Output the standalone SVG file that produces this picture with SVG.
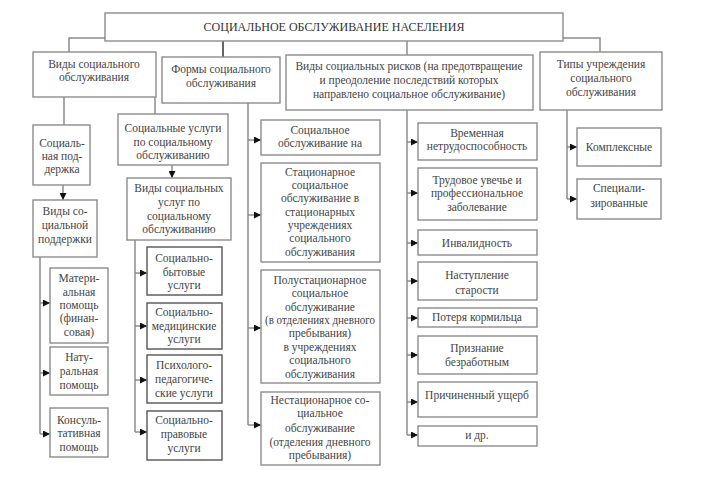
<svg xmlns="http://www.w3.org/2000/svg" width="705" height="492" viewBox="0 0 705 492">
<defs>
<marker id="ar" viewBox="0 0 10 10" refX="10" refY="5" markerWidth="8" markerHeight="7" markerUnits="userSpaceOnUse" orient="auto">
<path d="M0,0 L10,5 L0,10 z" fill="#111"/>
</marker>
</defs>
<style>
.b{fill:#fff;stroke:#8c8c8c;stroke-width:1.4}
.d{fill:#fff;stroke:#555;stroke-width:1.4}
.t{font-family:'Liberation Serif','Times New Roman',serif;font-size:11.5px;fill:#444;text-anchor:middle}
.h{font-family:'Liberation Serif','Times New Roman',serif;font-size:12px;fill:#333;text-anchor:middle}
.c{fill:none;stroke:#8c8c8c;stroke-width:1.5}
.k{fill:none;stroke:#333;stroke-width:1.5}
.a{fill:none;stroke:#8c8c8c;stroke-width:1.5;marker-end:url(#ar)}
</style>
<rect width="705" height="492" fill="#fff"/>

<g id="connectors">
<path class="c" d="M105,38 H69 V52"/>
<path class="c" d="M563,38 H600 V52"/>
<path class="k" d="M223,41 V57"/>
<path class="c" d="M407,41 V55"/>
<path class="c" d="M64,97 V125"/>
<path class="c" d="M155,97 V114"/>
<path class="a" d="M63,185 V200"/>
<path class="c" d="M40,257 V434"/>
<path class="a" d="M40,303 H50"/>
<path class="a" d="M40,373 H50"/>
<path class="a" d="M40,434 H50"/>
<path class="a" d="M172,165 V178"/>
<path class="c" d="M135,240 V432"/>
<path class="a" d="M135,273 H147"/>
<path class="a" d="M135,326 H147"/>
<path class="a" d="M135,380 H147"/>
<path class="a" d="M135,432 H147"/>
<path class="c" d="M248,103 V425"/>
<path class="a" d="M248,140 H261"/>
<path class="a" d="M248,215 H261"/>
<path class="a" d="M248,328 H261"/>
<path class="a" d="M248,425 H261"/>
<path class="c" d="M407,110 V435"/>
<path class="a" d="M407,142 H418"/>
<path class="a" d="M407,193 H418"/>
<path class="a" d="M407,243 H418"/>
<path class="a" d="M407,281 H418"/>
<path class="a" d="M407,318 H418"/>
<path class="a" d="M407,355 H418"/>
<path class="a" d="M407,402 H418"/>
<path class="a" d="M407,435 H418"/>
<path class="c" d="M567,110 V199"/>
<path class="a" d="M567,147 H577"/>
<path class="a" d="M567,199 H577"/>
</g>

<g id="title"><rect class="b" x="105" y="13" width="458" height="28"/><text class="h" x="334" y="31">СОЦИАЛЬНОЕ ОБСЛУЖИВАНИЕ НАСЕЛЕНИЯ</text></g>

<g id="vidy"><rect class="b" x="33" y="52" width="123" height="45"/><text class="t" x="94" y="68">Виды социального</text><text class="t" x="94" y="81">обслуживания</text></g>
<g id="formy"><rect class="b" x="162" y="57" width="118" height="46"/><text class="t" x="221" y="73">Формы социального</text><text class="t" x="221" y="87">обслуживания</text></g>
<g id="riski"><rect class="b" x="286" y="55" width="247" height="55"/><text class="t" x="409" y="70">Виды социальных рисков (на предотвращение</text><text class="t" x="409" y="84">и преодоление последствий которых</text><text class="t" x="409" y="98">направлено социальное обслуживание)</text></g>
<g id="tipy"><rect class="b" x="540" y="52" width="122" height="58"/><text class="t" x="601" y="68">Типы учреждения</text><text class="t" x="601" y="82">социального</text><text class="t" x="601" y="96">обслуживания</text></g>

<g id="podderzhka"><rect class="b" x="33" y="125" width="57" height="60"/><text class="t" x="62" y="147">Социаль-</text><text class="t" x="62" y="160">ная под-</text><text class="t" x="62" y="173">держка</text></g>
<g id="vidy-podderzhki"><rect class="b" x="33" y="200" width="64" height="57"/><text class="t" x="65" y="215">Виды со-</text><text class="t" x="65" y="229">циальной</text><text class="t" x="65" y="243">поддержки</text></g>
<g id="materialnaya"><rect class="b" x="50" y="268" width="58" height="75"/><text class="t" x="79" y="282">Матери-</text><text class="t" x="79" y="296">альная</text><text class="t" x="79" y="309">помощь</text><text class="t" x="79" y="322">(финан-</text><text class="t" x="79" y="336">совая)</text></g>
<g id="naturalnaya"><rect class="b" x="50" y="347" width="58" height="48"/><text class="t" x="79" y="361">Нату-</text><text class="t" x="79" y="375">ральная</text><text class="t" x="79" y="389">помощь</text></g>
<g id="konsultativnaya"><rect class="b" x="50" y="408" width="58" height="49"/><text class="t" x="79" y="424">Консуль-</text><text class="t" x="79" y="437">тативная</text><text class="t" x="79" y="451">помощь</text></g>

<g id="uslugi"><rect class="b" x="118" y="114" width="110" height="51"/><text class="t" x="173" y="132">Социальные услуги</text><text class="t" x="173" y="146">по социальному</text><text class="t" x="173" y="159">обслуживанию</text></g>
<g id="vidy-uslug"><rect class="b" x="127" y="178" width="104" height="62"/><text class="t" x="179" y="192">Виды социальных</text><text class="t" x="179" y="206">услуг по</text><text class="t" x="179" y="220">социальному</text><text class="t" x="179" y="233">обслуживанию</text></g>
<g id="bytovye"><rect class="d" x="147" y="247" width="75" height="48"/><text class="t" x="184" y="262">Социально-</text><text class="t" x="184" y="276">бытовые</text><text class="t" x="184" y="289">услуги</text></g>
<g id="medicinskie"><rect class="d" x="147" y="303" width="75" height="46"/><text class="t" x="184" y="316">Социально-</text><text class="t" x="184" y="330">медицинские</text><text class="t" x="184" y="343">услуги</text></g>
<g id="psihologo"><rect class="d" x="147" y="355" width="75" height="48"/><text class="t" x="184" y="369">Психолого-</text><text class="t" x="184" y="383">педагогиче-</text><text class="t" x="184" y="397">ские услуги</text></g>
<g id="pravovye"><rect class="d" x="147" y="411" width="75" height="49"/><text class="t" x="184" y="424">Социально-</text><text class="t" x="184" y="438">правовые</text><text class="t" x="184" y="452">услуги</text></g>

<g id="na-domu"><rect class="b" x="261" y="120" width="119" height="35"/><text class="t" x="320" y="134">Социальное</text><text class="t" x="320" y="147">обслуживание на</text></g>
<g id="stacionarnoe"><rect class="b" x="261" y="163" width="119" height="99"/><text class="t" x="320" y="176">Стационарное</text><text class="t" x="320" y="189">социальное</text><text class="t" x="320" y="202">обслуживание в</text><text class="t" x="320" y="216">стационарных</text><text class="t" x="320" y="229">учреждениях</text><text class="t" x="320" y="242">социального</text><text class="t" x="320" y="256">обслуживания</text></g>
<g id="polustacionarnoe"><rect class="b" x="261" y="270" width="119" height="113"/><text class="t" x="320" y="284">Полустационарное</text><text class="t" x="320" y="297">социальное</text><text class="t" x="320" y="311">обслуживание</text><text class="t" x="320" y="324" textLength="110" lengthAdjust="spacingAndGlyphs">(в отделениях дневного</text><text class="t" x="320" y="337">пребывания)</text><text class="t" x="320" y="351">в учреждениях</text><text class="t" x="320" y="364">социального</text><text class="t" x="320" y="378">обслуживания</text></g>
<g id="nestacionarnoe"><rect class="b" x="261" y="392" width="119" height="73"/><text class="t" x="320" y="404">Нестационарное со-</text><text class="t" x="320" y="417">циальное</text><text class="t" x="320" y="432">обслуживание</text><text class="t" x="320" y="446">(отделения дневного</text><text class="t" x="320" y="459">пребывания)</text></g>

<g id="r1"><rect class="b" x="418" y="123" width="119" height="37"/><text class="t" x="477" y="137">Временная</text><text class="t" x="477" y="150">нетрудоспособность</text></g>
<g id="r2"><rect class="b" x="418" y="168" width="119" height="52"/><text class="t" x="477" y="184">Трудовое увечье и</text><text class="t" x="477" y="197">профессиональное</text><text class="t" x="477" y="211">заболевание</text></g>
<g id="r3"><rect class="b" x="418" y="230" width="119" height="25"/><text class="t" x="477" y="247">Инвалидность</text></g>
<g id="r4"><rect class="b" x="418" y="262" width="119" height="38"/><text class="t" x="477" y="279">Наступление</text><text class="t" x="477" y="294">старости</text></g>
<g id="r5"><rect class="b" x="418" y="308" width="119" height="19"/><text class="t" x="477" y="321">Потеря кормильца</text></g>
<g id="r6"><rect class="b" x="418" y="336" width="119" height="38"/><text class="t" x="477" y="352">Признание</text><text class="t" x="477" y="366">безработным</text></g>
<g id="r7"><rect class="b" x="418" y="382" width="119" height="35"/><text class="t" x="477" y="399">Причиненный ущерб</text></g>
<g id="r8"><rect class="b" x="418" y="426" width="119" height="20"/><text class="t" x="477" y="439">и др.</text></g>

<g id="kompleksnye"><rect class="b" x="577" y="128" width="84" height="38"/><text class="t" x="619" y="151">Комплексные</text></g>
<g id="specializirovannye"><rect class="b" x="577" y="179" width="84" height="40"/><text class="t" x="619" y="192">Специали-</text><text class="t" x="619" y="207">зированные</text></g>
</svg>
